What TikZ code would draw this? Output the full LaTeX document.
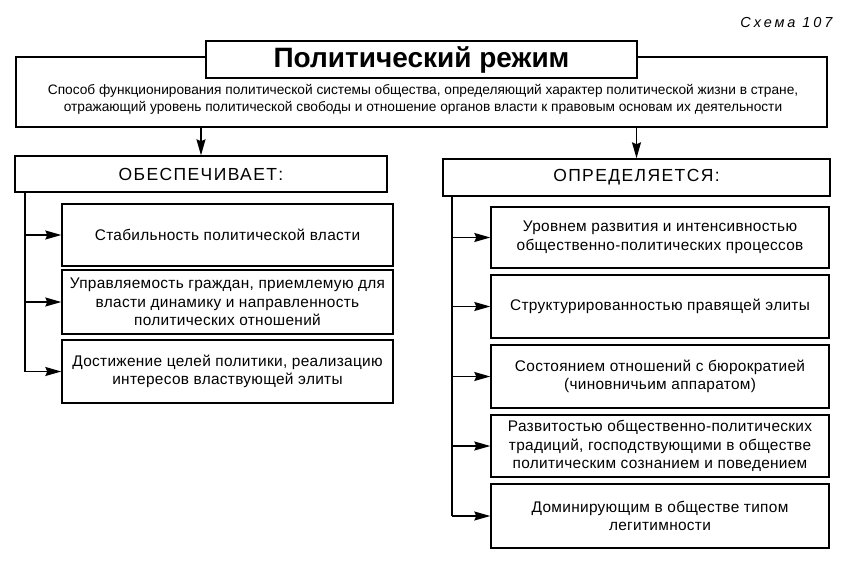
\documentclass[tikz,border=0pt]{standalone}
\usepackage{fontspec}
\setmainfont{Liberation Sans}
\newfontfamily\hdfont[LetterSpace=8]{Liberation Sans}
\newfontfamily\capfont[LetterSpace=20]{Liberation Sans}
\newfontfamily\bxfont[LetterSpace=2]{Liberation Sans}
\usetikzlibrary{arrows.meta}
\begin{document}
\begin{tikzpicture}[x=1pt,y=-1pt,
  box/.style={draw, line width=1.4pt, align=center, inner sep=0pt, fill=white,
    font=\bxfont\fontsize{15.4}{18.5}\selectfont},
  lbox/.style={box, minimum width=331pt},
  rbox/.style={box, minimum width=338pt},
  head/.style={box, font=\hdfont\fontsize{17.5}{20}\selectfont},
  arr/.style={-{Stealth[length=16pt,width=9pt,inset=2pt]}, line width=1.3pt},
  ln/.style={line width=1.3pt}]
\useasboundingbox (0,0) rectangle (850,568);
\fill[white] (0,0) rectangle (850,568);

% caption
\node[font=\capfont\itshape\fontsize{14.5}{16}\selectfont, anchor=east] (cap) at (836,23) {Схема 107};

% main definition box
\node[box, minimum width=811pt, minimum height=70pt] (big) at (421.5,92) {};
\node[font=\fontsize{13.7}{17}\selectfont, align=center] (def) at (423,99)
  {Способ функционирования политической системы общества, определяющий характер политической жизни в стране,\\
   отражающий уровень политической свободы и отношение органов власти к правовым основам их деятельности};
\node[box, minimum width=431pt, minimum height=37pt, font=\bfseries\fontsize{28}{30}\selectfont] (title) at (421.5,59.5) {Политический режим};

% headers
\node[head, minimum width=372pt, minimum height=36pt] (lhead) at (201,174) {ОБЕСПЕЧИВАЕТ:};
\node[head, minimum width=387pt, minimum height=37pt] (rhead) at (636.5,177.5) {ОПРЕДЕЛЯЕТСЯ:};

\draw[arr] (big.south -| lhead.north) -- (lhead.north);
\draw[arr] (big.south -| rhead.north) -- (rhead.north);

% left boxes
\node[lbox, minimum height=62pt] (L1) at (227.5,235) {Стабильность политической власти};
\node[lbox, minimum height=64pt] (L2) at (227.5,302) {Управляемость граждан, приемлемую для\\власти динамику и направленность\\политических отношений};
\node[lbox, minimum height=63pt] (L3) at (227.5,371.5) {Достижение целей политики, реализацию\\интересов властвующей элиты};

% right boxes
\node[rbox, minimum height=61pt] (R1) at (660,237.5) {Уровнем развития и интенсивностью\\общественно-политических процессов};
\node[rbox, minimum height=63pt] (R2) at (660,306.5) {Структурированностью правящей элиты};
\node[rbox, minimum height=63pt] (R3) at (660,376.5) {Состоянием отношений с бюрократией\\(чиновничьим аппаратом)};
\node[rbox, minimum height=62pt] (R4) at (660,446) {Развитостью общественно-политических\\традиций, господствующими в обществе\\политическим сознанием и поведением};
\node[rbox, minimum height=64pt] (R5) at (660,516) {Доминирующим в обществе типом\\легитимности};

% connectors
\coordinate (lx) at (25,0);
\coordinate (rx) at (452,0);
\draw[ln] (lhead.south -| lx) -- (L3.west -| lx);
\foreach \n in {L1,L2,L3} \draw[arr] (\n.west -| lx) -- (\n.west);
\draw[ln] (rhead.south -| rx) -- (R5.west -| rx);
\foreach \n in {R1,R2,R3,R4,R5} \draw[arr] (\n.west -| rx) -- (\n.west);
\end{tikzpicture}
\end{document}
